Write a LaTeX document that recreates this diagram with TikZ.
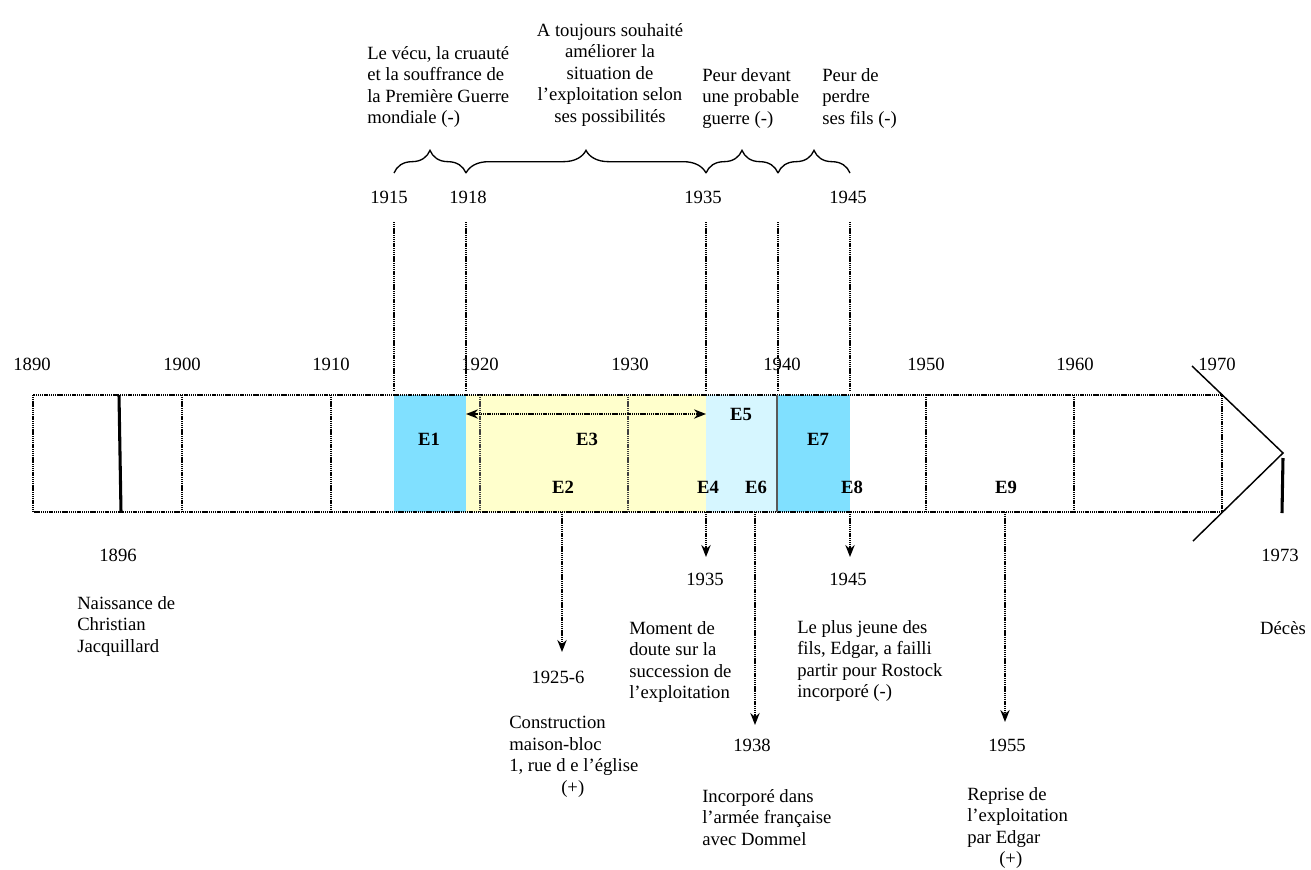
\documentclass[tikz,border=0pt]{standalone}
\usepackage{fontspec}
\setmainfont{Liberation Serif}
\usetikzlibrary{arrows.meta,decorations.pathreplacing}
\definecolor{cyanE}{RGB}{128,224,255}
\definecolor{cyanL}{RGB}{214,246,255}
\definecolor{yellowL}{RGB}{255,255,204}
\begin{document}
\begin{tikzpicture}[x=0.75pt,y=-0.75pt,
  txt/.style={font=\fontsize{14}{16.1}\selectfont, inner sep=0pt},
  blk/.style={txt, align=left, anchor=north west},
  blkc/.style={txt, align=center, anchor=north},
  yr/.style={txt, anchor=base},
  lbl/.style={font=\fontsize{14}{16.1}\selectfont\bfseries, inner sep=0pt, anchor=base},
  bandline/.style={dash pattern=on 0.9pt off 0.5pt, line width=1.1pt},
  dline/.style={dash pattern=on 0.9pt off 0.5pt, line width=0.9pt},
  arr/.style={dash pattern=on 0.9pt off 0.5pt, line width=1.2pt, -{Stealth[length=9pt,width=7pt]}},
  arrb/.style={dash pattern=on 0.9pt off 0.5pt, line width=1.2pt, {Stealth[length=9pt,width=7pt]}-{Stealth[length=9pt,width=7pt]}},
  bracestyle/.style={decorate, decoration={brace, amplitude=17pt}, line width=1pt}
]
\useasboundingbox (0,0) rectangle (1311,869);
% coloured periods
\fill[cyanE] (394,395) rectangle (466,512);
\fill[yellowL] (466,395) rectangle (706,512);
\fill[cyanL] (706,395) rectangle (777,512);
\fill[cyanE] (777,395) rectangle (850,512);
% band
\coordinate (bandNW) at (33,395);
\coordinate (bandSE) at (1222,512);
\draw[bandline] (bandNW) rectangle (bandSE);
\foreach \x in {182,331,926,1074}{\draw[dline] (\x,395) -- (\x,512);}
\foreach \x in {480,628}{\draw[dline, black!75] (\x,395) -- (\x,512);}
\draw[gray!70!black, line width=0.8pt] (777,395) -- (777,512);
\draw[line width=2.3pt] (119,395) -- (121,512);
% arrow head of the band
\coordinate (chA) at (1192,366);
\coordinate (chT) at (1283,453);
\coordinate (chB) at (1193,541);
\draw[line width=1.1pt] (chA) -- (chT) -- (chB);
\draw[line width=2.3pt] (1283,458) -- (1282,513);
% year labels on band
\node[yr] (y1890) at (32,370) {1890};
\node[yr] (y1900) at (182,370) {1900};
\node[yr] (y1910) at (331,370) {1910};
\node[yr] (y1920) at (480,370) {1920};
\node[yr] (y1930) at (630,370) {1930};
\node[yr] (y1940) at (782,370) {1940};
\node[yr] (y1950) at (926,370) {1950};
\node[yr] (y1960) at (1075,370) {1960};
\node[yr] (y1970) at (1217,370) {1970};
% vertical period lines
\foreach \x/\n in {394/a,466/b,706/c,778/d,850/e}{
  \coordinate (top\n) at (\x,222);
  \coordinate (bot\n) at (\x,391);
  \draw[dline] (top\n) -- (bot\n);
}
\node[yr] (p1915) at (389,203) {1915};
\node[yr] (p1918) at (468,203) {1918};
\node[yr] (p1935) at (703,203) {1935};
\node[yr] (p1945) at (848,203) {1945};
% braces
\coordinate (bra) at (394,173);
\coordinate (brb) at (466,173);
\coordinate (brc) at (706,173);
\coordinate (brd) at (778,173);
\coordinate (bre) at (850,173);
\draw[bracestyle] (bra) -- (brb);
\draw[bracestyle] (brb) -- (brc);
\draw[bracestyle] (brc) -- (brd);
\draw[bracestyle] (brd) -- (bre);
% top texts
\node[blk] (t1) at (367,46) {Le vécu, la cruauté\\et la souffrance de\\la Première Guerre\\mondiale (-)};
\node[blkc] (t2) at (610,23) {A toujours souhaité\\améliorer la\\situation de\\l’exploitation selon\\ses possibilités};
\node[blk] (t3) at (702,68) {Peur devant\\une probable\\guerre (-)};
\node[blk] (t4) at (822,68) {Peur de\\perdre\\ses fils (-)};
% event labels
\node[lbl] (e1) at (429,445) {E1};
\node[lbl] (e3) at (587,445) {E3};
\node[lbl] (e5) at (741,420) {E5};
\node[lbl] (e7) at (818,445) {E7};
\node[lbl] (e2) at (563,493) {E2};
\node[lbl] (e4) at (708,493) {E4};
\node[lbl] (e6) at (756,493) {E6};
\node[lbl] (e8) at (852,493) {E8};
\node[lbl] (e9) at (1006,493) {E9};
% double arrow E3
\coordinate (d1) at (466,414);
\coordinate (d2) at (706,414);
\draw[arrb] (d1) -- (d2);
% bottom labels
\node[yr] (b1896) at (118,561) {1896};
\node[blk] (n1896) at (77,596) {Naissance de\\Christian\\Jacquillard};
\node[yr] (b1925) at (558,683) {1925-6};
\node[blk] (n1925) at (509,716) {Construction\\maison-bloc\\1, rue d e l’église\\\hspace*{39pt}(+)};
\node[yr] (b1935) at (705,585) {1935};
\node[blk] (n1935) at (629,621) {Moment de\\doute sur la\\succession de\\l’exploitation};
\node[yr] (b1945) at (848,585) {1945};
\node[blk] (n1945) at (797,620) {Le plus jeune des\\fils, Edgar, a failli\\partir pour Rostock\\incorporé (-)};
\node[yr] (b1938) at (752,751) {1938};
\node[blk] (n1938) at (702,789) {Incorporé dans\\l’armée française\\avec Dommel};
\node[yr] (b1955) at (1007,751) {1955};
\node[blk] (n1955) at (967,787) {Reprise de\\l’exploitation\\par Edgar\\\hspace*{24pt}(+)};
\node[yr] (b1973) at (1280,561) {1973};
\node[yr] (n1973) at (1283,634) {Décès};
% event arrows
\coordinate (s2) at (562,512);  \coordinate (h2) at (562,652);
\coordinate (s4) at (706,512);  \coordinate (h4) at (706,557);
\coordinate (s6) at (755,512);  \coordinate (h6) at (755,725);
\coordinate (s8) at (850,512);  \coordinate (h8) at (850,557);
\coordinate (s9) at (1005,512); \coordinate (h9) at (1005,722);
\draw[arr] (s2) -- (h2);
\draw[arr] (s4) -- (h4);
\draw[arr] (s6) -- (h6);
\draw[arr] (s8) -- (h8);
\draw[arr] (s9) -- (h9);
\end{tikzpicture}
\end{document}
